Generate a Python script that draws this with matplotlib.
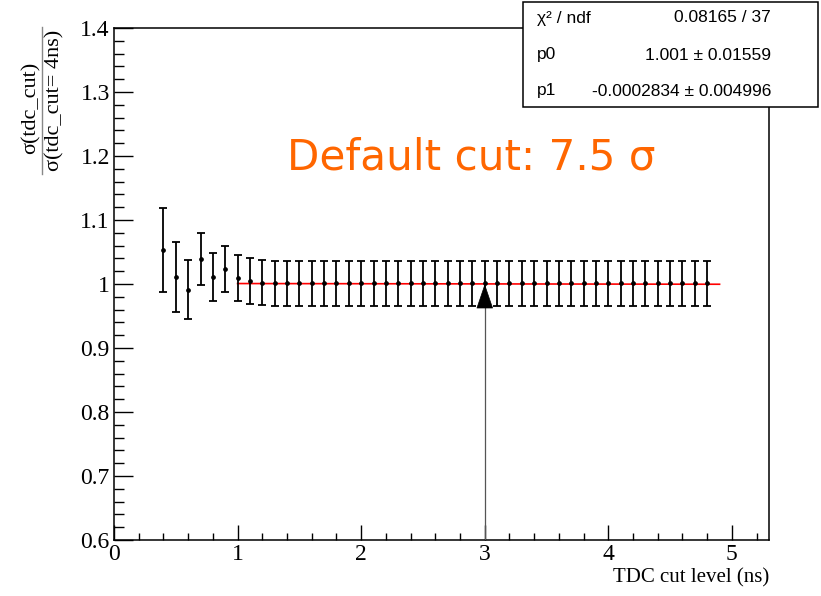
import matplotlib
matplotlib.use("Agg")
import matplotlib.pyplot as plt
from matplotlib.ticker import MultipleLocator, FuncFormatter

# ---------------- data ----------------
cut_levels = [0.4, 0.5, 0.6, 0.7, 0.8, 0.9, 1.0, 1.1, 1.2, 1.3, 1.4, 1.5, 1.6,
              1.7, 1.8, 1.9, 2.0, 2.1, 2.2, 2.3, 2.4, 2.5, 2.6, 2.7, 2.8, 2.9,
              3.0, 3.1, 3.2, 3.3, 3.4, 3.5, 3.6, 3.7, 3.8, 3.9, 4.0, 4.1, 4.2,
              4.3, 4.4, 4.5, 4.6, 4.7, 4.8]
ratio = [1.053, 1.011, 0.991, 1.039, 1.011, 1.023, 1.010, 1.005, 1.002] + [1.001] * 36
ratio_err = [0.065, 0.054, 0.046, 0.041, 0.038, 0.036, 0.036, 0.036, 0.035] + [0.035] * 36

fit_p0 = 1.001
fit_p1 = -0.0002834
fit_range = [1.0, 4.9]

stats_labels = ["χ² / ndf", "p0", "p1"]
stats_values = ["0.08165 / 37", "1.001 ± 0.01559", "-0.0002834 ± 0.004996"]

default_cut_x = 3.0
arrow_tip_y = 1.0
arrow_base_y = 0.6
annotation_text = "Default cut: 7.5 σ"

x_label = "TDC cut level (ns)"
y_num = "σ(tdc_cut)"
y_den = "σ(tdc_cut= 4ns)"

# ---------------- figure ----------------
W, H = 821, 596
fig = plt.figure(figsize=(W / 100, H / 100), dpi=100)
ax = fig.add_axes([114 / W, 1 - 540 / H, (769 - 114) / W, (540 - 28) / H])
ax.set_xlim(0, 5.3)
ax.set_ylim(0.6, 1.4)

serif = ["Liberation Serif", "DejaVu Serif"]
sans = ["Liberation Sans", "DejaVu Sans"]

# fit line
fx = fit_range
fy = [fit_p0 + fit_p1 * v for v in fx]
ax.plot(fx, fy, color="#ff0000", lw=1.2, zorder=2)

# data
ax.errorbar(cut_levels, ratio, yerr=ratio_err, fmt="o", color="black",
            ms=2.4, elinewidth=1.3, capsize=3.0, capthick=1.3, zorder=3)

# arrow
ax.plot([default_cut_x, default_cut_x], [arrow_base_y, arrow_tip_y - 0.03],
        color="#555555", lw=0.9, zorder=4)
ax.annotate("", xy=(default_cut_x, arrow_tip_y), xytext=(default_cut_x, arrow_tip_y - 0.036),
            arrowprops=dict(arrowstyle="-|>,head_length=1.65,head_width=0.56",
                            mutation_scale=10, color="black", lw=0.5,
                            shrinkA=0, shrinkB=0), zorder=5)

# annotation
fig.text(287 / W, 1 - 158 / H, annotation_text,
         color="#ff6600", fontsize=30.3, family=["DejaVu Sans"], ha="left", va="center")

# axes style
for s in ax.spines.values():
    s.set_linewidth(1.1)
ax.xaxis.set_major_locator(MultipleLocator(1))
ax.xaxis.set_minor_locator(MultipleLocator(0.2))
ax.yaxis.set_major_locator(MultipleLocator(0.1))
ax.yaxis.set_minor_locator(MultipleLocator(0.02))
ax.tick_params(axis="x", which="major", direction="in", length=10.8, width=1.0,
               top=False, pad=3)
ax.tick_params(axis="x", which="minor", direction="in", length=5.4, width=1.0, top=False)
ax.tick_params(axis="y", which="major", direction="in", length=13.7, width=1.0,
               right=False, pad=3)
ax.tick_params(axis="y", which="minor", direction="in", length=7.2, width=1.0, right=False)


def yfmt(v, pos):
    s = f"{v:.1f}"
    return "1" if s == "1.0" else s


ax.yaxis.set_major_formatter(FuncFormatter(yfmt))
ax.xaxis.set_major_formatter(FuncFormatter(lambda v, p: f"{v:.0f}"))
for lab in ax.get_xticklabels() + ax.get_yticklabels():
    lab.set_fontfamily(serif)
    lab.set_fontsize(17)

# x label
fig.text(769 / W, 1 - 578 / H, x_label, ha="right", va="center",
         fontsize=15, family=serif)

# y label as fraction
fig.text(31 / W, 1 - 108 / H, y_num, rotation=90, ha="center", va="center",
         fontsize=16, family=serif)
fig.text(55 / W, 1 - 100 / H, y_den, rotation=90, ha="center", va="center",
         fontsize=16, family=serif)
fig.add_artist(plt.Line2D([42 / W, 42 / W], [1 - 27 / H, 1 - 174 / H],
                          transform=fig.transFigure, color="#888888", lw=1.0))

# stats box
bx0, by0, bx1, by1 = 523 / W, 1 - 107 / H, 818 / W, 1 - 2 / H
fig.add_artist(plt.Rectangle((bx0, by0), bx1 - bx0, by1 - by0, transform=fig.transFigure,
                             facecolor="white", edgecolor="black", lw=1.1, zorder=10))
rows_y = [18, 55, 91]
for lab, val, ry in zip(stats_labels, stats_values, rows_y):
    fig.text(537 / W, 1 - ry / H, lab, ha="left", va="center", fontsize=12.5,
             family=sans, zorder=11)
    fig.text(771 / W, 1 - ry / H, val, ha="right", va="center", fontsize=12.5,
             family=sans, zorder=11)

fig.savefig("out.png", dpi=100)
